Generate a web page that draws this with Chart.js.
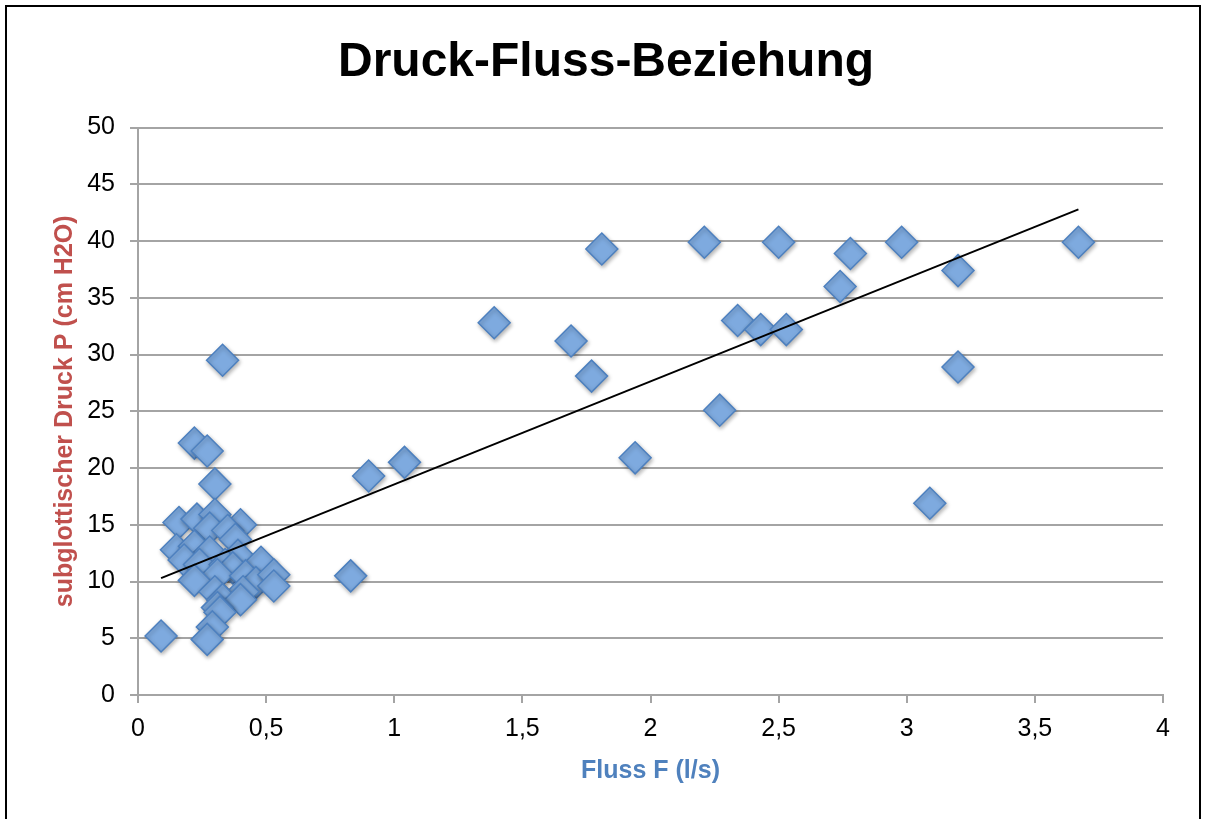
<!DOCTYPE html>
<html>
<head>
<meta charset="utf-8">
<script src="https://cdn.jsdelivr.net/npm/chart.js@4/dist/chart.umd.min.js"></script>
<style>
  body { margin: 0; background: #fff; }
  #wrap { position: relative; width: 1205px; height: 819px; overflow: hidden; }
  #frame { position: absolute; left: 5px; top: 5px; width: 1196px; height: 830px;
           border: 2px solid #000; box-sizing: border-box; }
  canvas { position: absolute; left: 0; top: 0; }
</style>
</head>
<body>
<div id="wrap">
  <div id="frame"></div>
  <canvas id="chartDruck" width="1205" height="819"></canvas>
</div>
<script>
// ── Daten ───────────────────────────────────────
const flussF = [
  0.09, 0.83, 0.90, 1.04, 1.39, 1.69, 1.77, 1.81, 1.94, 2.21, 2.27, 2.34,
  2.43, 2.50, 2.53, 2.74, 2.78, 2.98, 3.09, 3.20, 3.20, 3.67, 0.33,
  0.22, 0.27, 0.30, 0.16, 0.23, 0.30, 0.28, 0.40, 0.35, 0.38, 0.15, 0.22,
  0.28, 0.39, 0.18, 0.24, 0.34, 0.37, 0.48, 0.31, 0.22, 0.42, 0.46, 0.53,
  0.53, 0.30, 0.41, 0.33, 0.40, 0.31, 0.32, 0.29, 0.27
];
const druckP = [
  5.2, 10.5, 19.3, 20.5, 32.8, 31.2, 28.1, 39.3, 20.9, 39.9, 25.1, 33.0,
  32.2, 39.9, 32.2, 36.0, 38.9, 39.9, 16.9, 37.4, 28.9, 39.9, 29.5,
  22.2, 21.5, 18.6, 15.2, 15.5, 15.9, 14.7, 15.0, 14.5, 13.7, 12.8, 13.1,
  12.6, 12.3, 11.9, 11.5, 11.5, 11.2, 11.7, 10.6, 10.1, 10.5, 9.9, 10.6,
  9.6, 9.1, 9.1, 8.4, 8.4, 7.7, 7.3, 6.0, 4.9
];
const trendX = [0.09, 3.67];
const trendY = [10.3, 42.8];

const xTicks = [0, 0.5, 1, 1.5, 2, 2.5, 3, 3.5, 4];
const yTicks = [0, 5, 10, 15, 20, 25, 30, 35, 40, 45, 50];

const fmtKomma = v => String(v).replace('.', ',');

const punkte = flussF.map((x, i) => ({ x, y: druckP[i] }));
const trend  = trendX.map((x, i) => ({ x, y: trendY[i] }));

const gridFarbe = '#a4a4a4';
const schrift   = '"Liberation Sans", Arial, sans-serif';

new Chart(document.getElementById('chartDruck'), {
  type: 'scatter',
  data: {
    datasets: [
      {
        type: 'line',
        label: 'Trend',
        data: trend,
        borderColor: '#000',
        borderWidth: 2,
        pointRadius: 0,
        fill: false,
        order: 0
      },
      {
        label: 'P',
        data: punkte,
        pointStyle: 'rectRot',
        pointRadius: 16,
        backgroundColor: '#7eaadf',
        borderColor: '#4d80bf',
        borderWidth: 1.5,
        order: 1
      }
    ]
  },
  options: {
    responsive: false,
    animation: false,
    layout: { padding: { left: 24, right: 17, top: 0, bottom: 0 } },
    plugins: {
      legend: { display: false },
      tooltip: { enabled: false },
      title: {
        display: true,
        text: 'Druck-Fluss-Beziehung',
        color: '#000',
        font: { family: schrift, size: 48, weight: 'bold' },
        padding: { top: 34, bottom: 36 }
      }
    },
    scales: {
      x: {
        type: 'linear',
        min: 0, max: 4,
        afterBuildTicks: s => { s.ticks = xTicks.map(v => ({ value: v })); },
        afterFit: s => { s.height = 124; },
        grid: { display: true, drawOnChartArea: false, drawTicks: true, tickLength: 8,
                color: gridFarbe, lineWidth: 2 },
        border: { color: gridFarbe, width: 2 },
        ticks: { color: '#000', padding: 11, font: { family: schrift, size: 25 },
                 callback: v => fmtKomma(v), maxRotation: 0 },
        title: { display: true, text: 'Fluss F (l/s)', color: '#4f81bd',
                 font: { family: schrift, size: 25, weight: 'bold' },
                 padding: { top: 0, bottom: 33 } }
      },
      y: {
        type: 'linear',
        min: 0, max: 50,
        afterBuildTicks: s => { s.ticks = yTicks.map(v => ({ value: v })); },
        afterFit: s => { s.width = 114; },
        grid: { color: gridFarbe, lineWidth: 2, tickLength: 8 },
        border: { color: gridFarbe, width: 2 },
        ticks: { color: '#000', padding: 15, font: { family: schrift, size: 25 } },
        title: { display: true, text: 'subglottischer Druck P (cm H2O)', color: '#c0504d',
                 font: { family: schrift, size: 25, weight: 'bold' },
                 padding: { top: 26, bottom: 0 } }
      },
      // leerer Rand rechts, damit der Titel mittig über dem Blatt sitzt
      rand: {
        type: 'linear',
        position: 'right',
        min: 0, max: 50,
        afterFit: s => { s.width = 25; },
        grid: { display: false },
        border: { display: false },
        ticks: { display: false }
      }
    }
  },
  plugins: [{
    id: 'punktSchatten',
    beforeDatasetDraw(chart, args) {
      if (args.index !== 1) return;
      const c = chart.ctx;
      c.save();
      c.shadowColor = 'rgba(0,0,0,0.3)';
      c.shadowBlur = 4;
      c.shadowOffsetX = 1;
      c.shadowOffsetY = 2;
    },
    afterDatasetDraw(chart, args) {
      if (args.index !== 1) return;
      chart.ctx.restore();
    }
  }]
});
</script>
</body>
</html>
